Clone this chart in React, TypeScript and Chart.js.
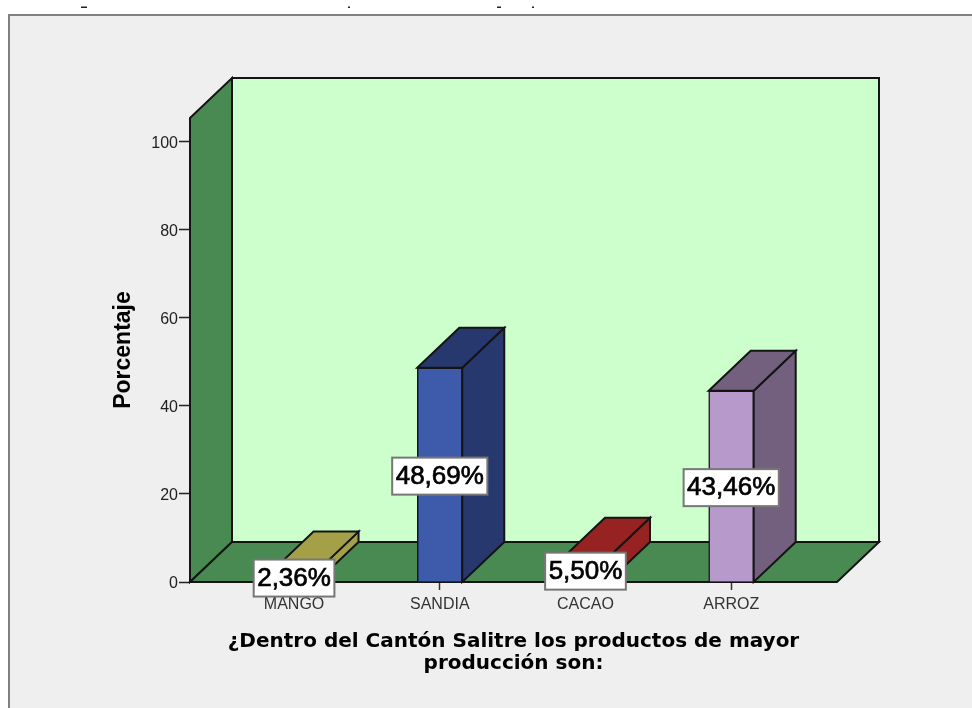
import React, { useEffect, useRef } from "react";
import { Chart, registerables } from "chart.js";

Chart.register(...registerables);

const categories = ["MANGO", "SANDIA", "CACAO", "ARROZ"];
const positions = [0, 1, 2, 3];
const percentages = [2.36, 48.69, 5.5, 43.46];
const valueLabels = ["2,36%", "48,69%", "5,50%", "43,46%"];
const frontColors = ["#a7a24a", "#3e5aab", "#962222", "#b899cb"];
const sideColors = ["#a3a047", "#27386f", "#962222", "#73607f"];
const yTicks = [0, 20, 40, 60, 80, 100];
const xTitle = ["¿Dentro del Cantón Salitre los productos de mayor", "producción son:"];
const yTitle = "Porcentaje";

const DX = 42;
const DY = 40;
const INK = "#141414";

const poly = (ctx: CanvasRenderingContext2D, pts: number[][], fill: string) => {
  ctx.beginPath();
  pts.forEach(([x, y], i) => (i ? ctx.lineTo(x, y) : ctx.moveTo(x, y)));
  ctx.closePath();
  ctx.fillStyle = fill;
  ctx.fill();
  ctx.stroke();
};

const box3d = {
  id: "box3d",
  beforeDraw(chart: any) {
    const { ctx, width, height } = chart;
    ctx.save();
    ctx.fillStyle = "#ffffff";
    ctx.fillRect(0, 0, width, height);
    ctx.fillStyle = "#efefef";
    ctx.fillRect(9, 15, width - 9, height - 15);
    ctx.fillStyle = "#808080";
    ctx.fillRect(8, 14, width - 8, 2);
    ctx.fillRect(8, 14, 2, height - 14);
    // clipped remnants of a cut-off heading above the frame
    ctx.fillStyle = "#222222";
    ctx.fillRect(81, 6.5, 6, 1.5);
    ctx.fillRect(348, 6.5, 2, 1.5);
    ctx.fillRect(497, 6.5, 4, 1.5);
    ctx.fillRect(532, 6.5, 2, 1.5);
    ctx.restore();
  },
  beforeDatasetsDraw(chart: any) {
    const { ctx, chartArea: a } = chart;
    const { left: l, right: r, top: t, bottom: b } = a;
    ctx.save();
    ctx.lineWidth = 2;
    ctx.strokeStyle = INK;
    ctx.lineJoin = "miter";
    poly(ctx, [[l + DX, t - DY], [r + DX, t - DY], [r + DX, b - DY], [l + DX, b - DY]], "#ccffcc");
    poly(ctx, [[l, t], [l + DX, t - DY], [l + DX, b - DY], [l, b]], "#488a52");
    poly(ctx, [[l, b], [r, b], [r + DX, b - DY], [l + DX, b - DY]], "#488a52");
    const meta = chart.getDatasetMeta(0);
    meta.data.forEach((bar: any, i: number) => {
      const x0 = bar.x - bar.width / 2;
      const x1 = bar.x + bar.width / 2;
      poly(ctx, [[x1, bar.y], [x1 + DX, bar.y - DY], [x1 + DX, b - DY], [x1, b]], sideColors[i]);
      poly(ctx, [[x0, bar.y], [x0 + DX, bar.y - DY], [x1 + DX, bar.y - DY], [x1, bar.y]], sideColors[i]);
    });
    ctx.restore();
  },
  afterDatasetsDraw(chart: any) {
    const { ctx } = chart;
    const meta = chart.getDatasetMeta(0);
    ctx.save();
    ctx.font = "26px 'Liberation Sans'";
    ctx.textAlign = "center";
    ctx.textBaseline = "middle";
    meta.data.forEach((bar: any, i: number) => {
      const cy = (bar.y + bar.base) / 2 + 1;
      const w = ctx.measureText(valueLabels[i]).width + 7;
      ctx.fillStyle = "#ffffff";
      ctx.strokeStyle = "#777777";
      ctx.lineWidth = 2;
      ctx.fillRect(bar.x - w / 2, cy - 18, w, 37);
      ctx.strokeRect(bar.x - w / 2, cy - 18, w, 37);
      ctx.fillStyle = "#000000";
      ctx.strokeStyle = "#000000";
      ctx.lineWidth = 0.7;
      ctx.fillText(valueLabels[i], bar.x, cy + 1);
      ctx.strokeText(valueLabels[i], bar.x, cy + 1);
    });
    ctx.restore();
  },
};

export default function App() {
  const ref = useRef<HTMLCanvasElement>(null);
  useEffect(() => {
    const chart = new Chart(ref.current as HTMLCanvasElement, {
      type: "bar",
      data: {
        datasets: [
          {
            data: positions.map((x, i) => ({ x, y: percentages[i] })),
            backgroundColor: frontColors,
            borderColor: INK,
            borderWidth: 1.5,
            barThickness: 45,
          },
        ],
      },
      plugins: [box3d],
      options: {
        animation: false,
        responsive: false,
        layout: { padding: { left: 0, right: 135, top: 118, bottom: 0 } },
        plugins: { legend: { display: false }, tooltip: { enabled: false }, title: { display: false } },
        scales: {
          x: {
            type: "linear",
            offset: false,
            min: -0.714,
            max: 3.726,
            afterFit: (s: any) => { s.height = 126; },
            afterBuildTicks: (s: any) => { s.ticks = positions.map((value) => ({ value })); },
            grid: { offset: false, drawOnChartArea: false, tickLength: 8, tickColor: "#333333", tickWidth: 1.5 },
            border: { display: false },
            ticks: {
              autoSkip: false,
              maxRotation: 0,
              padding: 5,
              color: "#333333",
              font: { family: "'Liberation Sans'", size: 16 },
              callback: (v: any) => categories[v],
            },
            title: {
              display: true,
              text: xTitle,
              color: "#000000",
              font: { family: "'DejaVu Sans'", size: 20, weight: "bold", lineHeight: 1.1 },
              padding: { top: 0, bottom: 33 },
            },
          },
          y: {
            min: 0,
            max: 105.45,
            afterFit: (s: any) => { s.width = 190; },
            afterBuildTicks: (s: any) => { s.ticks = yTicks.map((value) => ({ value })); },
            grid: { drawOnChartArea: false, tickLength: 11, tickColor: "#222222", tickWidth: 1.5 },
            border: { display: false },
            ticks: {
              padding: 1,
              labelOffset: 2,
              color: "#222222",
              font: { family: "'Liberation Sans'", size: 16 },
            },
            title: {
              display: true,
              text: yTitle,
              color: "#000000",
              font: { family: "'Liberation Sans'", size: 23, weight: "bold", lineHeight: 1 },
              padding: { top: 112, bottom: 0 },
            },
          },
        },
      },
    } as any);
    return () => chart.destroy();
  }, []);
  return (
    <canvas
      ref={ref}
      width={972}
      height={708}
      style={{ position: "fixed", left: 0, top: 0, width: 972, height: 708, display: "block" }}
    />
  );
}
